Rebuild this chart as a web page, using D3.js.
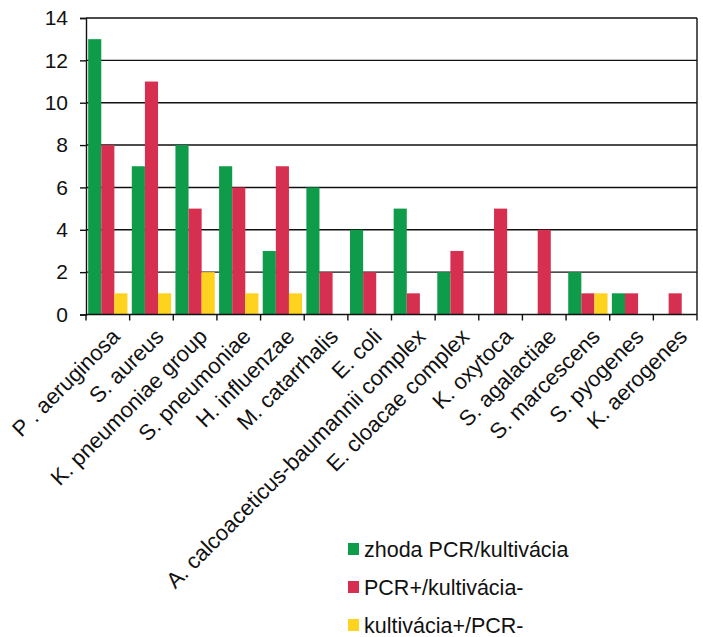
<!DOCTYPE html>
<html>
<head>
<meta charset="utf-8">
<script src="https://cdn.jsdelivr.net/npm/d3@7"></script>
<style>
  html, body { margin: 0; padding: 0; background: #fff; }
  svg { display: block; font-family: "Liberation Sans", Arial, sans-serif; }
</style>
</head>
<body>
<svg id="chart" width="703" height="637"></svg>
<script>
// Pathogens detected, grouped by agreement between PCR and culture
const categories = [
  "P . aeruginosa", "S. aureus", "K. pneumoniae group", "S. pneumoniae",
  "H. influenzae", "M. catarrhalis", "E. coli",
  "A. calcoaceticus-baumannii complex", "E. cloacae complex", "K. oxytoca",
  "S. agalactiae", "S. marcescens", "S. pyogenes", "K. aerogenes"
];
const seriesNames = ["zhoda PCR/kultivácia", "PCR+/kultivácia-", "kultivácia+/PCR-"];
const agreement   = [13, 7, 8, 7, 3, 6, 4, 5, 2, 0, 0, 2, 1, 0];
const pcrOnly     = [8, 11, 5, 6, 7, 2, 2, 1, 3, 5, 4, 1, 1, 1];
const cultureOnly = [1, 1, 2, 1, 1, 0, 0, 0, 0, 0, 0, 1, 0, 0];
const seriesColors = ["#0e9b4a", "#d62f50", "#fdd31f"];
const yTicks = [0, 2, 4, 6, 8, 10, 12, 14];

const series = [agreement, pcrOnly, cultureOnly];

const svg = d3.select("#chart");
const plotLeft = 86, plotRight = 697, plotTop = 18, plotBottom = 314.5;

const x = d3.scaleBand().domain(categories).range([plotLeft, plotRight]).paddingInner(0).paddingOuter(0);
const xInner = d3.scaleBand().domain(d3.range(series.length))
  .range([0, x.bandwidth()]).paddingInner(0).paddingOuter(0.165);
const y = d3.scaleLinear().domain([0, 14]).range([plotBottom, plotTop]);

// horizontal gridlines
svg.append("g").selectAll("line").data(yTicks.filter(d => d > 0)).join("line")
  .attr("x1", plotLeft).attr("x2", plotRight)
  .attr("y1", d => y(d)).attr("y2", d => y(d))
  .attr("stroke", "#111").attr("stroke-width", 1.4);

// right border of the plot area
svg.append("line").attr("x1", plotRight).attr("x2", plotRight)
  .attr("y1", plotTop).attr("y2", plotBottom)
  .attr("stroke", "#111").attr("stroke-width", 1.4);

// bars
const groups = svg.append("g").selectAll("g").data(categories).join("g")
  .attr("transform", d => `translate(${x(d)},0)`);
groups.selectAll("rect")
  .data((c, i) => series.map((s, k) => ({ k, v: s[i] })).filter(d => d.v > 0))
  .join("rect")
  .attr("x", d => xInner(d.k))
  .attr("width", xInner.bandwidth())
  .attr("y", d => y(d.v))
  .attr("height", d => y(0) - y(d.v))
  .attr("fill", d => seriesColors[d.k]);

// y axis
const yAxis = svg.append("g").attr("transform", `translate(${plotLeft},0)`)
  .call(d3.axisLeft(y).tickValues(yTicks).tickSize(6).tickPadding(12).tickFormat(d3.format("d")));
yAxis.select(".domain").attr("stroke", "#111").attr("stroke-width", 1.4);
yAxis.selectAll(".tick line").attr("stroke", "#111").attr("stroke-width", 1.4);
yAxis.selectAll("text").attr("font-size", 21).attr("fill", "#111")
  .attr("font-family", "Liberation Sans, Arial, sans-serif");

// x axis: tick marks sit on category boundaries
const xAxis = svg.append("g").attr("transform", `translate(0,${plotBottom})`);
xAxis.append("line").attr("x1", plotLeft).attr("x2", plotRight).attr("y1", 0).attr("y2", 0)
  .attr("stroke", "#111").attr("stroke-width", 1.6);
xAxis.selectAll("line.tk").data(categories.map(c => x(c)).concat([plotRight])).join("line")
  .attr("class", "tk")
  .attr("x1", d => d).attr("x2", d => d).attr("y1", 0).attr("y2", 6)
  .attr("stroke", "#111").attr("stroke-width", 1.4);
xAxis.selectAll("text").data(categories).join("text")
  .attr("transform", d => `translate(${x(d) + x.bandwidth() / 2 + 8},${18}) rotate(-45)`)
  .attr("text-anchor", "end")
  .attr("dy", "0.35em")
  .attr("font-size", 22)
  .attr("fill", "#111")
  .text(d => d);

// legend
const legend = svg.append("g").attr("transform", "translate(348,543)");
const items = legend.selectAll("g").data(seriesNames).join("g")
  .attr("transform", (d, i) => `translate(0,${i * 38})`);
items.append("rect").attr("width", 11).attr("height", 12)
  .attr("fill", (d, i) => seriesColors[i]);
items.append("text").attr("x", 16).attr("y", 14)
  .attr("font-size", 21.5).attr("fill", "#111")
  .text(d => d);
</script>
</body>
</html>
